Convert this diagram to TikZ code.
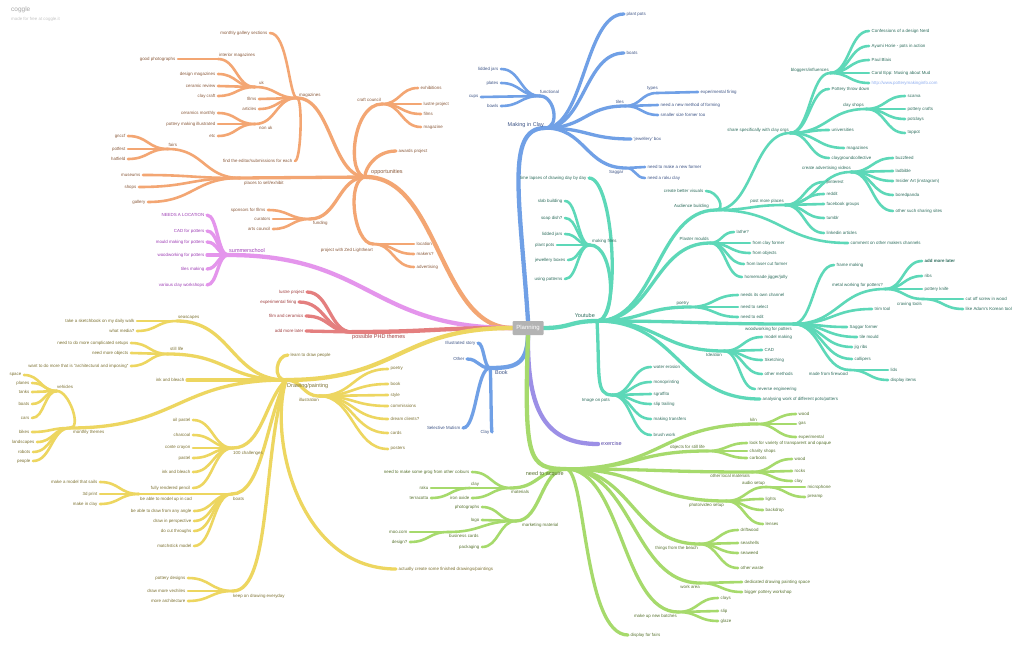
\documentclass[tikz,border=0pt]{standalone}
\usepackage{fontspec}
\setmainfont{Liberation Sans}
\usetikzlibrary{calc}
\pgfdeclarelayer{paper}
\pgfdeclarelayer{bg}
\pgfsetlayers{paper,bg,main}
\definecolor{oL}{HTML}{F3A673}\definecolor{oT}{HTML}{8A5A3B}
\definecolor{bL}{HTML}{70A0E6}\definecolor{bT}{HTML}{3F5587}
\definecolor{tL}{HTML}{5DD8B8}\definecolor{tT}{HTML}{2F6E5E}
\definecolor{vL}{HTML}{E495EC}\definecolor{vT}{HTML}{9E3FB5}
\definecolor{rL}{HTML}{E47F7F}\definecolor{rT}{HTML}{A03E3E}
\definecolor{yL}{HTML}{EDD660}\definecolor{yT}{HTML}{7D7232}
\definecolor{gL}{HTML}{A6DA6C}\definecolor{gT}{HTML}{58732F}
\definecolor{pL}{HTML}{9C8FE6}\definecolor{pT}{HTML}{5646A8}
\definecolor{urlC}{HTML}{8FAEF0}
\definecolor{planG}{HTML}{B3B3B3}
\tikzset{
 e/.style={to path={let \p1=(\tikztostart),\p2=(\tikztotarget) in .. controls ({(\x1+\x2)/2},\y1) and ({(\x1+\x2)/2},\y2) .. (\tikztotarget)}},
 cc/.style 2 args={to path={let \p1=(\tikztostart),\p2=(\tikztotarget) in .. controls ({\x1+(#1)},\y1) and ({\x2+(#2)},\y2) .. (\tikztotarget)}},
 lab/.style={font=\fontsize{4.4}{5}\selectfont,inner sep=0pt},
 big/.style={font=\fontsize{5.5}{6.5}\selectfont},
 w1/.style={line width=4.3pt}, w2/.style={line width=3.3pt}, w3/.style={line width=2.6pt},
 tc/.style={}, ln/.style={},
}
\newcommand\lfL[4]{\coordinate (#1) at (#2,#3);\node[lab,tc,anchor=east] (#1t) at ([xshift=-2.5pt]#1) {#4};}
\newcommand\lfR[4]{\coordinate (#1) at (#2,#3);\node[lab,tc,anchor=west] (#1t) at ([xshift=2.5pt]#1) {#4};}
\newcommand\ndI[7]{\coordinate (#1) at (#2,#3);\node[lab,tc,#6] (#1t) at (#4,#5) {#7};}
\newcommand\ed[3]{\draw[ln,line cap=round,e,#1] (#2) to (#3);}
\newcommand\edc[5]{\draw[ln,line cap=round,#1] (#2) .. controls (#3) and (#4) .. (#5);}
\begin{document}
\begin{tikzpicture}[x=1pt,y=-1pt]
\begin{pgfonlayer}{paper}
\fill[white] (0,0) rectangle (1024,650);
\end{pgfonlayer}
\useasboundingbox (0,0) rectangle (1024,650);
\node[anchor=west,text=gray!70,font=\fontsize{6.5}{7}\selectfont,inner sep=0pt] (wm1) at (11,10) {coggle};
\node[anchor=west,text=gray!45,font=\fontsize{4.4}{5}\selectfont,inner sep=0pt] (wm2) at (11,19.5) {made for free at coggle.it};
\node[fill=planG,text=white,font=\fontsize{6}{7}\selectfont,minimum width=31pt,minimum height=14pt,inner sep=0pt,rounded corners=1pt] (plan) at (528,328) {Planning};

% ---------------- orange: opportunities
\begin{scope}[tc/.style={text=oT},ln/.style={draw=oL}]
\ndI{opp}{366}{177}{371}{172}{anchor=west,big}{opportunities}
\ndI{oMag}{297}{98}{299}{95.5}{anchor=west}{magazines}
\lfL{oMgs}{270}{33}{monthly gallery sections}
\ndI{oUk}{255}{87}{259}{82.5}{anchor=west}{uk}
\ndI{oIm}{218}{59}{219}{55}{anchor=west}{interior magazines}
\lfL{oGp}{178}{59}{good photographs}
\lfL{oDm}{218}{74}{design magazines}
\lfL{oCr}{218}{86}{ceramic review}
\lfL{oCc2}{218}{96}{clay craft}
\lfL{oFi}{259}{99}{films}
\lfL{oAr}{259}{109}{articles}
\ndI{oNu}{255}{124}{259}{128}{anchor=west}{non uk}
\lfL{oCm}{218}{113}{ceramics monthly}
\lfL{oPmi}{218}{124}{pottery making illustrated}
\lfL{oEtc}{218}{136}{etc}
\lfL{oFe}{295}{161}{find the editor/submissions for each}
\ndI{oPl}{240}{178}{244}{183}{anchor=west}{places to sell/exhibit}
\ndI{oFa}{168}{149}{168.5}{145}{anchor=west}{fairs}
\lfL{oGn}{128}{136}{gnccf}
\lfL{oPf}{128}{149}{potfest}
\lfL{oHa}{128}{159}{hatfield}
\lfL{oMu}{143}{175}{museums}
\lfL{oSh}{139}{187}{shops}
\lfL{oGa}{148}{202}{gallery}
\ndI{oCc}{382}{104}{381}{100}{anchor=east}{craft council}
\lfR{oEx}{418}{88}{exhibitions}
\lfR{oLp}{421}{104}{lustre project}
\lfR{oFi2}{421}{114}{films}
\lfR{oMz}{421}{127}{magazine}
\lfR{oAw}{396}{151}{awards project}
\ndI{oFu}{310}{219}{313}{223}{anchor=west}{funding}
\lfL{oSp}{268}{210}{sponsors for films}
\lfL{oCu}{273}{219}{curators}
\lfL{oAc}{273}{229}{arts council}
\ndI{oZe}{373}{244}{373}{250}{anchor=east}{project with Zed Lightheart}
\lfR{oLo}{414}{244}{location}
\lfR{oMk}{414}{254}{makers?}
\lfR{oAd}{414}{267}{advertising}
\begin{pgfonlayer}{bg}
\ed{w1}{plan.west}{opp}
\ed{w2}{opp}{oMag}
\ed{w3,cc={-8}{18}}{oMag}{oMgs}
\ed{w3}{oMag}{oUk}
\ed{w3}{oUk}{oIm}
\ed{w3}{oIm}{oGp}
\ed{w3}{oUk}{oDm}
\ed{w3}{oUk}{oCr}
\ed{w3}{oUk}{oCc2}
\ed{w3}{oMag}{oFi}
\ed{w3}{oMag}{oAr}
\ed{w3}{oMag}{oNu}
\ed{w3}{oNu}{oCm}
\ed{w3}{oNu}{oPmi}
\ed{w3}{oNu}{oEtc}
\ed{w3,cc={6}{6}}{oMag}{oFe}
\ed{w2}{opp}{oPl}
\ed{w3}{oPl}{oFa}
\ed{w3}{oFa}{oGn}
\ed{w3}{oFa}{oPf}
\ed{w3}{oFa}{oHa}
\ed{w3}{oPl}{oMu}
\ed{w3}{oPl}{oSh}
\ed{w3}{oPl}{oGa}
\ed{w2,cc={-20}{-30}}{opp}{oCc}
\ed{w3}{oCc}{oEx}
\ed{w3}{oCc}{oLp}
\ed{w3}{oCc}{oFi2}
\ed{w3}{oCc}{oMz}
\ed{w2,cc={-4}{-25}}{opp}{oAw}
\ed{w2}{opp}{oFu}
\ed{w3}{oFu}{oSp}
\ed{w3}{oFu}{oCu}
\ed{w3}{oFu}{oAc}
\ed{w2,cc={-20}{-20}}{opp}{oZe}
\ed{w3}{oZe}{oLo}
\ed{w3}{oZe}{oMk}
\ed{w3}{oZe}{oAd}
\end{pgfonlayer}
\end{scope}

% ---------------- blue: Making in Clay, Book
\begin{scope}[tc/.style={text=bT},ln/.style={draw=bL}]
\ndI{bMic}{545}{128}{544}{125}{anchor=east,big}{Making in Clay}
\ndI{bFu}{540}{96}{540}{92}{anchor=west}{functional}
\lfL{bLj}{501}{69}{lidded jars}
\lfL{bPl}{501}{83}{plates}
\lfL{bCu}{481}{97}{cups}
\lfL{bBo}{501}{106}{bowls}
\lfR{bPp}{624}{14}{plant pots}
\lfR{bBt}{624}{53}{boats}
\ndI{bTi}{625}{106}{624}{101.5}{anchor=east}{tiles}
\ndI{bTy}{657}{93}{647}{89}{anchor=west}{types}
\lfR{bEf}{698}{92}{experimental firing}
\lfR{bNm}{658}{105}{need a new method of forming}
\lfR{bSs}{658}{115}{smaller size former too}
\lfR{bJb}{631}{139}{`jewellery' box}
\ndI{bSa}{626}{168}{609}{172}{anchor=west}{Saggar}
\lfR{bNf}{645}{167}{need to make a new former}
\lfR{bRc}{645}{178}{need a raku clay}
\ndI{bBk}{490}{368}{495}{373}{anchor=west,big}{Book}
\lfL{bIs}{478}{343}{Illustrated story}
\lfL{bOt}{467}{359}{Other}
\lfL{bSm}{463}{428}{Selective Mutism}
\lfL{bCl}{492}{432}{Clay}
\begin{pgfonlayer}{bg}
\edc{w1}{plan.north}{520,200}{505,128}{bMic}
\ed{w2,cc={15}{15}}{bMic}{bFu}
\ed{w3}{bFu}{bLj}
\ed{w3}{bFu}{bPl}
\ed{w3}{bFu}{bCu}
\ed{w3}{bFu}{bBo}
\ed{w2}{bMic}{bPp}
\ed{w2}{bMic}{bBt}
\ed{w2}{bMic}{bTi}
\ed{w3}{bTi}{bTy}
\ed{w3}{bTy}{bEf}
\ed{w3}{bTi}{bNm}
\ed{w3}{bTi}{bSs}
\ed{w2}{bMic}{bJb}
\ed{w2}{bMic}{bSa}
\ed{w3}{bSa}{bNf}
\ed{w3}{bSa}{bRc}
\edc{w1}{plan.south}{527,365}{515,368}{bBk}
\ed{w2}{bBk}{bIs}
\ed{w2}{bBk}{bOt}
\ed{w2}{bBk}{bSm}
\ed{w2}{bBk}{bCl}
\end{pgfonlayer}
\end{scope}

% ---------------- teal: Youtube
\begin{scope}[tc/.style={text=tT},ln/.style={draw=tL}]
\ndI{tYt}{597}{321}{595}{316}{anchor=east,big}{Youtube}
\lfL{tTl}{589}{178}{time lapses of drawing day by day}
\ndI{tMf}{590}{245}{592}{241.5}{anchor=west}{making films}
\lfL{tSb}{565}{201}{slab building}
\lfL{tSd}{565}{218}{soap dish?}
\lfL{tLj}{565}{234}{lidded jars}
\lfL{tPp}{557}{245}{plant pots}
\lfL{tJb}{568}{260}{jewellery boxes}
\lfL{tUp}{565}{279}{using patterns}
\ndI{tAb}{716}{210}{709}{206}{anchor=east}{Audience building}
\lfL{tCbv}{706}{191}{create better visuals}
\ndI{tSs}{790}{133}{789}{130}{anchor=east}{share specifically with clay orgs}
\ndI{tBi}{830}{73}{829}{70}{anchor=east}{bloggers/influences}
\lfR{tCo}{869}{31}{Confessions of a design Nerd}
\lfR{tAy}{869}{46}{Ayumi Horie - pots in action}
\lfR{tPb}{869}{60}{Paul Blais}
\lfR{tCe}{869}{73}{Carol Epp: Musing about Mud}
\coordinate (tUrl) at (869,83);
\node[lab,text=urlC,anchor=west] (tUrlt) at ([xshift=2.5pt]tUrl) {http://www.potterymakinginfo.com};
\lfR{tPtd}{829}{89}{Pottery throw down}
\ndI{tCs}{866}{109}{864}{105}{anchor=east}{clay shops}
\lfR{tSc}{905}{96}{scarva}
\lfR{tPc}{905}{109}{pottery crafts}
\lfR{tPcl}{905}{119}{potclays}
\lfR{tTp}{905}{133}{toppot}
\lfR{tUn}{829}{130}{universities}
\lfR{tMg}{844}{148}{magazines}
\lfR{tCg}{829}{158}{claygroundcollective}
\ndI{tPm}{785}{205}{784}{201}{anchor=east}{post more places}
\ndI{tCav}{851}{172}{851}{168}{anchor=east}{create advertising videos}
\lfR{tBf}{893}{158}{buzzfeed}
\lfR{tLb}{893}{171}{ladbible}
\lfR{tIa}{893}{181}{Insider Art (instagram)}
\lfR{tBp}{893}{195}{boredpanda}
\lfR{tOs}{893}{211}{other such sharing sites}
\lfR{tPi}{824}{182}{pinterest}
\lfR{tRe}{824}{194}{reddit}
\lfR{tFb}{824}{204}{facebook groups}
\lfR{tTu}{824}{218}{tumblr}
\lfR{tLi}{824}{233}{linkedin articles}
\lfR{tCm}{848}{243}{comment on other makers channels}
\ndI{tPmo}{710}{243}{709}{239}{anchor=east}{Plaster moulds}
\lfR{tLa}{734}{232}{lathe?}
\lfR{tFcf}{750}{243}{from clay former}
\lfR{tFo}{750}{253}{from objects}
\lfR{tFl}{744}{264}{from laser cut former}
\lfR{tHj}{742}{277}{homemade jigger/jolly}
\ndI{tPo}{690}{307}{689}{304}{anchor=east}{poetry}
\lfR{tNc}{738}{295}{needs its own channel}
\lfR{tNs}{738}{307}{need to select}
\lfR{tNe}{738}{317}{need to edit}
\ndI{tWw}{793}{324}{792}{329}{anchor=east}{woodworking for potters}
\lfR{tFm}{834}{265}{frame making}
\ndI{tMw}{885}{289}{883}{285}{anchor=east}{metal working for potters?}
\coordinate (tAml) at (922,261);
\node[lab,tc,anchor=west,font=\bfseries\fontsize{4.4}{5}\selectfont] (tAmlt) at ([xshift=2.5pt]tAml) {add more later};
\lfR{tRi}{922}{276}{ribs}
\lfR{tPk}{922}{289}{pottery knife}
\ndI{tCt}{923}{299}{922}{304}{anchor=east}{craving tools}
\lfR{tCs2}{963}{299}{cut off screw in wood}
\lfR{tAk}{963}{309}{like Adam's Korean tool}
\lfR{tTt}{872}{309}{trim tool}
\lfR{tSf}{847}{327}{Saggar former}
\lfR{tTm}{857}{337}{tile mould}
\lfR{tJr}{852}{347}{jig ribs}
\lfR{tCa}{852}{359}{callipers}
\ndI{tFw}{850}{370}{848}{374}{anchor=east}{made from firewood}
\lfR{tLd}{888}{370}{lids}
\lfR{tDi}{888}{380}{display items}
\ndI{tId}{724}{351}{722}{355}{anchor=east}{Ideation}
\lfR{tMm}{762}{337}{model making}
\lfR{tCad}{762}{350}{CAD}
\lfR{tSk}{762}{360}{Sketching}
\lfR{tOm}{762}{374}{other methods}
\lfR{tRev}{755}{389}{reverse engineering}
\lfR{tAn}{760}{399}{analysing work of different pots/potters}
\ndI{tIp}{612}{395}{610}{400}{anchor=east}{Image on pots}
\lfR{tWe}{651}{367}{water erosion}
\lfR{tMp}{651}{382}{monoprinting}
\lfR{tSg}{651}{394}{sgraffito}
\lfR{tSt}{651}{404}{slip trailing}
\lfR{tMt}{651}{419}{making transfers}
\lfR{tBw}{651}{435}{brush work}
\begin{pgfonlayer}{bg}
\ed{w1}{plan.east}{tYt}
\ed{w2,cc={25}{25}}{tYt}{tTl}
\ed{w2,cc={20}{25}}{tYt}{tMf}
\ed{w3}{tMf}{tSb}
\ed{w3}{tMf}{tSd}
\ed{w3}{tMf}{tLj}
\ed{w3}{tMf}{tPp}
\ed{w3}{tMf}{tJb}
\ed{w3}{tMf}{tUp}
\ed{w2}{tYt}{tAb}
\ed{w3,cc={10}{12}}{tAb}{tCbv}
\ed{w3}{tAb}{tSs}
\ed{w3}{tSs}{tBi}
\ed{w3}{tBi}{tCo}
\ed{w3}{tBi}{tAy}
\ed{w3}{tBi}{tPb}
\ed{w3}{tBi}{tCe}
\ed{w3}{tBi}{tUrl}
\ed{w3}{tSs}{tPtd}
\ed{w3}{tSs}{tCs}
\ed{w3}{tCs}{tSc}
\ed{w3}{tCs}{tPc}
\ed{w3}{tCs}{tPcl}
\ed{w3}{tCs}{tTp}
\ed{w3}{tSs}{tUn}
\ed{w3}{tSs}{tMg}
\ed{w3}{tSs}{tCg}
\ed{w3}{tAb}{tPm}
\ed{w3}{tPm}{tCav}
\ed{w3}{tCav}{tBf}
\ed{w3}{tCav}{tLb}
\ed{w3}{tCav}{tIa}
\ed{w3}{tCav}{tBp}
\ed{w3}{tCav}{tOs}
\ed{w3}{tPm}{tPi}
\ed{w3}{tPm}{tRe}
\ed{w3}{tPm}{tFb}
\ed{w3}{tPm}{tTu}
\ed{w3}{tPm}{tLi}
\ed{w3}{tAb}{tCm}
\ed{w2}{tYt}{tPmo}
\ed{w3}{tPmo}{tLa}
\ed{w3}{tPmo}{tFcf}
\ed{w3}{tPmo}{tFo}
\ed{w3}{tPmo}{tFl}
\ed{w3}{tPmo}{tHj}
\ed{w2}{tYt}{tPo}
\ed{w3}{tPo}{tNc}
\ed{w3}{tPo}{tNs}
\ed{w3}{tPo}{tNe}
\ed{w2}{tYt}{tWw}
\ed{w3}{tWw}{tFm}
\ed{w3}{tWw}{tMw}
\ed{w3}{tMw}{tAml}
\ed{w3}{tMw}{tRi}
\ed{w3}{tMw}{tPk}
\ed{w3}{tMw}{tCt}
\ed{w3}{tCt}{tCs2}
\ed{w3}{tCt}{tAk}
\ed{w3}{tWw}{tTt}
\ed{w3}{tWw}{tSf}
\ed{w3}{tWw}{tTm}
\ed{w3}{tWw}{tJr}
\ed{w3}{tWw}{tCa}
\ed{w3}{tWw}{tFw}
\ed{w3}{tFw}{tLd}
\ed{w3}{tFw}{tDi}
\ed{w2}{tYt}{tId}
\ed{w3}{tId}{tMm}
\ed{w3}{tId}{tCad}
\ed{w3}{tId}{tSk}
\ed{w3}{tId}{tOm}
\ed{w3}{tId}{tRev}
\ed{w2}{tYt}{tAn}
\edc{w2}{tYt}{600,375}{595,395}{tIp}
\ed{w3}{tIp}{tWe}
\ed{w3}{tIp}{tMp}
\ed{w3}{tIp}{tSg}
\ed{w3}{tIp}{tSt}
\ed{w3}{tIp}{tMt}
\ed{w3}{tIp}{tBw}
\end{pgfonlayer}
\end{scope}

% ---------------- violet: summerschool
\begin{scope}[tc/.style={text=vT},ln/.style={draw=vL}]
\ndI{vSs}{228}{255}{229}{251}{anchor=west,big}{summerschool}
\lfL{vNl}{207}{215}{NEEDS A LOCATION}
\lfL{vCad}{207}{231}{CAD for potters}
\lfL{vMm}{207}{242}{mould making for potters}
\lfL{vWw}{207}{255}{woodworking for potters}
\lfL{vTm}{207}{269}{tiles making}
\lfL{vVc}{207}{285}{various clay workshops}
\begin{pgfonlayer}{bg}
\ed{w1}{plan.west}{vSs}
\ed{w2}{vSs}{vNl}
\ed{w2}{vSs}{vCad}
\ed{w2}{vSs}{vMm}
\ed{w2}{vSs}{vWw}
\ed{w2}{vSs}{vTm}
\ed{w2}{vSs}{vVc}
\end{pgfonlayer}
\end{scope}

% ---------------- red: PHD
\begin{scope}[tc/.style={text=rT},ln/.style={draw=rL}]
\ndI{rPh}{352}{332}{352}{337}{anchor=west,big}{possible PHD themes}
\lfL{rLp}{307}{292}{lustre project}
\lfL{rEf}{299}{302}{experimental firing}
\lfL{rFc}{306}{316}{film and ceramics}
\lfL{rAm}{306}{331}{add more later}
\begin{pgfonlayer}{bg}
\ed{w1}{plan.west}{rPh}
\ed{w2}{rPh}{rLp}
\ed{w2}{rPh}{rEf}
\ed{w2}{rPh}{rFc}
\ed{w2}{rPh}{rAm}
\end{pgfonlayer}
\end{scope}

% ---------------- yellow: Drawing/painting
\begin{scope}[tc/.style={text=yT},ln/.style={draw=yL}]
\ndI{yDp}{286}{380}{287}{386}{anchor=west,big}{Drawing/painting}
\lfR{yLd}{288}{355}{learn to draw people}
\ndI{yIl}{319}{396}{319}{400}{anchor=east}{illustration}
\lfR{yPo}{388}{369}{poetry}
\lfR{yBk}{388}{384}{book}
\lfR{ySt}{388}{395}{style}
\lfR{yCo}{388}{406}{commissions}
\lfR{yDc}{388}{419}{dream clients?}
\lfR{yCa}{388}{433}{cards}
\lfR{yPs}{388}{449}{posters}
\lfR{yAc}{396}{569}{actually create some finished drawings/paintings}
\ndI{yKd}{233}{591}{233}{596}{anchor=west}{keep on drawing everyday}
\lfL{yPd}{188}{578}{pottery designs}
\lfL{yDv}{188}{591}{draw more vechiles}
\lfL{yMa}{188}{601}{more architecture}
\ndI{yBo}{232}{494}{233}{498.5}{anchor=west}{boats}
\ndI{yBm}{139}{494}{140}{499}{anchor=west}{be able to model up in cad}
\lfL{yMs}{100}{482}{make a model that sails}
\lfL{y3d}{100}{494}{3d print}
\lfL{yMc}{100}{504}{make in clay}
\lfL{yBa}{194}{511}{be able to draw from any angle}
\lfL{yDip}{194}{521}{draw in perspective}
\lfL{yDct}{194}{531}{do cut throughs}
\lfL{yMsm}{194}{546}{matchstick model}
\ndI{yCh}{233}{448}{233}{453}{anchor=west}{100 challenges}
\lfL{yOp}{193}{420}{oil pastel}
\lfL{yCc}{193}{435}{charcoal}
\lfL{yCon}{193}{448}{conte crayon}
\lfL{yPa}{193}{458}{pastel}
\lfL{yIb2}{193}{472}{ink and bleach}
\lfL{yFr}{193}{488}{fully rendered pencil}
\ndI{yMt}{70}{428}{73}{432}{anchor=west}{monthly themes}
\ndI{yVe}{57}{391}{57}{387}{anchor=west}{vehicles}
\lfL{ySp}{24}{375}{space}
\lfL{yPl}{32}{383}{planes}
\lfL{yTa}{32}{392}{tanks}
\lfL{yBt}{32}{404}{boats}
\lfL{yCr}{32}{418}{cars}
\lfL{yBi}{32}{432}{bikes}
\lfL{yLs}{37}{442}{landscapes}
\lfL{yRo}{33}{452}{robots}
\lfL{yPe}{33}{461}{people}
\lfL{yIb}{187}{380}{ink and bleach}
\ndI{ySl}{168}{354}{170}{349}{anchor=west}{still life}
\lfL{yNc}{131}{343}{need to do more complicated setups}
\lfL{yNm}{131}{353}{need more objects}
\lfL{yWa}{131}{366}{want to do more that is "architectural and imposing"}
\ndI{ySc}{177}{321}{178}{318}{anchor=west}{seascapes}
\lfL{yTs}{137}{321}{take a sketchbook on my daily walk}
\lfL{yWm}{137}{331}{what media?}
\begin{pgfonlayer}{bg}
\ed{w1}{plan.west}{yDp}
\ed{w2,cc={-14}{-12}}{yDp}{yLd}
\ed{w2}{yDp}{yIl}
\ed{w3}{yIl}{yPo}
\ed{w3}{yIl}{yBk}
\ed{w3}{yIl}{ySt}
\ed{w3}{yIl}{yCo}
\ed{w3}{yIl}{yDc}
\ed{w3}{yIl}{yCa}
\ed{w3}{yIl}{yPs}
\edc{w2}{yDp}{268,440}{300,569}{yAc}
\edc{w2}{yDp}{262,450}{272,591}{yKd}
\ed{w3}{yKd}{yPd}
\ed{w3}{yKd}{yDv}
\ed{w3}{yKd}{yMa}
\edc{w2}{yDp}{266,420}{262,494}{yBo}
\ed{w3}{yBo}{yBm}
\ed{w3}{yBm}{yMs}
\ed{w3}{yBm}{y3d}
\ed{w3}{yBm}{yMc}
\ed{w3}{yBo}{yBa}
\ed{w3}{yBo}{yDip}
\ed{w3}{yBo}{yDct}
\ed{w3}{yBo}{yMsm}
\edc{w2}{yDp}{265,400}{262,448}{yCh}
\ed{w3}{yCh}{yOp}
\ed{w3}{yCh}{yCc}
\ed{w3}{yCh}{yCon}
\ed{w3}{yCh}{yPa}
\ed{w3}{yCh}{yIb2}
\ed{w3}{yCh}{yFr}
\ed{w2}{yDp}{yMt}
\ed{w3,cc={12}{12}}{yMt}{yVe}
\ed{w3}{yVe}{ySp}
\ed{w3}{yVe}{yPl}
\ed{w3}{yVe}{yTa}
\ed{w3}{yVe}{yBt}
\ed{w3}{yVe}{yCr}
\ed{w3}{yMt}{yBi}
\ed{w3}{yMt}{yLs}
\ed{w3}{yMt}{yRo}
\ed{w3}{yMt}{yPe}
\ed{w2}{yDp}{yIb}
\ed{w2}{yDp}{ySl}
\ed{w3}{ySl}{yNc}
\ed{w3}{ySl}{yNm}
\ed{w3}{ySl}{yWa}
\ed{w2}{yDp}{ySc}
\ed{w3}{ySc}{yTs}
\ed{w3}{ySc}{yWm}
\end{pgfonlayer}
\end{scope}

% ---------------- purple: exercise
\begin{scope}[tc/.style={text=pT},ln/.style={draw=pL}]
\ndI{pEx}{598}{444}{601}{444}{anchor=west,big}{exercise}
\begin{pgfonlayer}{bg}
\edc{w1}{plan.south}{527,410}{545,444}{pEx}
\end{pgfonlayer}
\end{scope}

% ---------------- green: need to acquire
\begin{scope}[tc/.style={text=gT},ln/.style={draw=gL}]
\ndI{gNa}{566}{469}{564}{474}{anchor=east,big}{need to acquire}
\ndI{gKi}{757}{424}{757}{420}{anchor=east}{kiln}
\lfR{gWo}{796}{414}{wood}
\lfR{gGa}{796}{424}{gas}
\lfR{gEx}{796}{437}{experimental}
\ndI{gOs}{707}{451}{705}{447}{anchor=east}{objects for still life}
\lfR{gLv}{747}{443}{look for variety of transparent and opaque}
\lfR{gCs}{747}{451}{charity shops}
\lfR{gCb}{747}{458}{carboots}
\ndI{gOl}{752}{472}{750}{476}{anchor=east}{other local materials}
\lfR{gWo2}{792}{459}{wood}
\lfR{gRo}{792}{471}{rocks}
\lfR{gCl2}{792}{481}{clay}
\ndI{gPv}{726}{501}{724}{505}{anchor=east}{photo/video setup}
\ndI{gAs}{766}{487}{765}{483}{anchor=east}{audio setup}
\lfR{gMi}{805}{487}{microphone}
\lfR{gPr}{805}{497}{preamp}
\lfR{gLi}{763}{499}{lights}
\lfR{gBd}{763}{510}{backdrop}
\lfR{gLe}{763}{524}{lenses}
\ndI{gTb}{699}{544}{698}{548}{anchor=east}{things from the beach}
\lfR{gDw}{738}{530}{driftwood}
\lfR{gSs}{738}{543}{seashells}
\lfR{gSw}{738}{553}{seaweed}
\lfR{gOw}{738}{568}{other waste}
\ndI{gWa}{700}{583}{700}{587}{anchor=east}{work area}
\lfR{gDd}{742}{582}{dedicated drawing painting space}
\lfR{gBp}{742}{592}{bigger pottery workshop}
\ndI{gMb}{678}{612}{677}{616}{anchor=east}{make up new batches}
\lfR{gCy}{718}{598}{clays}
\lfR{gSl}{718}{611}{slip}
\lfR{gGl}{718}{621}{glaze}
\lfR{gDf}{628}{635}{display for fairs}
\ndI{gMa}{511}{488}{511}{492}{anchor=west}{materials}
\lfL{gGr}{472}{472}{need to make some grog from other colours}
\ndI{gCl}{470}{488}{471}{484}{anchor=west}{clay}
\lfL{gRa}{431}{488}{raku}
\lfL{gTe}{431}{498}{terracotta}
\lfL{gIo}{472}{498}{iron oxide}
\ndI{gMm}{516}{521}{522}{525}{anchor=west}{marketing material}
\lfL{gPh}{482}{507}{photographs}
\lfL{gLo}{482}{520}{logo}
\ndI{gBc}{448}{532}{449}{536}{anchor=west}{business cards}
\lfL{gMo}{410}{532}{moo.com}
\lfL{gDe}{410}{542}{design?}
\lfL{gPk}{482}{547}{packaging}
\begin{pgfonlayer}{bg}
\edc{w1}{plan.south}{524,460}{528,469}{gNa}
\ed{w2}{gNa}{gKi}
\ed{w3}{gKi}{gWo}
\ed{w3}{gKi}{gGa}
\ed{w3}{gKi}{gEx}
\ed{w2}{gNa}{gOs}
\ed{w3}{gOs}{gLv}
\ed{w3}{gOs}{gCs}
\ed{w3}{gOs}{gCb}
\ed{w2}{gNa}{gOl}
\ed{w3}{gOl}{gWo2}
\ed{w3}{gOl}{gRo}
\ed{w3}{gOl}{gCl2}
\ed{w2}{gNa}{gPv}
\ed{w3}{gPv}{gAs}
\ed{w3}{gAs}{gMi}
\ed{w3}{gAs}{gPr}
\ed{w3}{gPv}{gLi}
\ed{w3}{gPv}{gBd}
\ed{w3}{gPv}{gLe}
\ed{w2}{gNa}{gTb}
\ed{w3}{gTb}{gDw}
\ed{w3}{gTb}{gSs}
\ed{w3}{gTb}{gSw}
\ed{w3}{gTb}{gOw}
\ed{w2}{gNa}{gWa}
\ed{w3}{gWa}{gDd}
\ed{w3}{gWa}{gBp}
\ed{w2}{gNa}{gMb}
\ed{w3}{gMb}{gCy}
\ed{w3}{gMb}{gSl}
\ed{w3}{gMb}{gGl}
\ed{w2,cc={20}{-45}}{gNa}{gDf}
\ed{w2}{gNa}{gMa}
\ed{w3}{gMa}{gGr}
\ed{w3}{gMa}{gCl}
\ed{w3}{gCl}{gRa}
\ed{w3}{gCl}{gTe}
\ed{w3}{gMa}{gIo}
\ed{w2}{gNa}{gMm}
\ed{w3}{gMm}{gPh}
\ed{w3}{gMm}{gLo}
\ed{w3}{gMm}{gBc}
\ed{w3}{gBc}{gMo}
\ed{w3}{gBc}{gDe}
\ed{w3}{gMm}{gPk}
\end{pgfonlayer}
\end{scope}
\end{tikzpicture}
\end{document}
